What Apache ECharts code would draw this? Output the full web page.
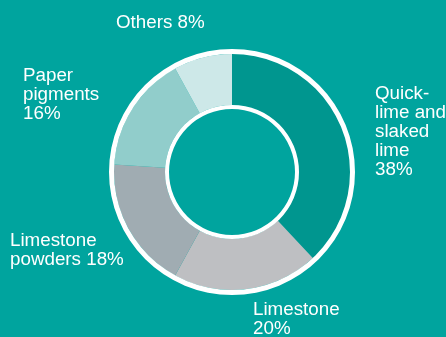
<!DOCTYPE html>
<html>
<head>
<meta charset="utf-8">
<script src="https://cdn.jsdelivr.net/npm/echarts@6/dist/echarts.min.js"></script>
<style>
  html, body { margin: 0; padding: 0; background: #00a49e; }
  #chart { width: 446px; height: 337px; }
</style>
</head>
<body>
<div id="chart"></div>
<script>
// Product mix, share in percent (clockwise from 12 o'clock)
const categories = ['Quick-\nlime and\nslaked\nlime', 'Limestone', 'Limestone\npowders', 'Paper\npigments', 'Others'];
const shares = [38, 20, 18, 16, 8];
// How each label joins the name and the share
const joiners = ['\n', '\n', ' ', '\n', ' '];

const sliceColors = ['#00968f', '#bebfc2', '#a0acb2', '#91cdcb', '#cde8e8'];
// Top-left corner of each label block
const labelSpots = [[375, 84], [253, 300], [10, 231], [23, 66], [116, 13]];

const chart = echarts.init(document.getElementById('chart'), null, { renderer: 'canvas' });
const center = [232, 172];

chart.setOption({
  backgroundColor: '#00a49e',
  animation: false,
  series: [
    {
      type: 'pie',
      center: center,
      radius: [67, 118],
      startAngle: 90,
      clockwise: true,
      avoidLabelOverlap: false,
      itemStyle: { borderWidth: 0 },
      label: {
        show: true,
        color: '#ffffff',
        fontFamily: 'Liberation Sans, Arial, sans-serif',
        fontSize: 18.8,
        lineHeight: 19,
        align: 'left',
        formatter: function (p) {
          return p.name + joiners[p.dataIndex] + p.value + '%';
        }
      },
      labelLine: { show: false },
      labelLayout: function (p) {
        const s = labelSpots[p.dataIndex];
        return { x: s[0], y: s[1], align: 'left', verticalAlign: 'top', hideOverlap: false };
      },
      emphasis: { disabled: true },
      data: categories.map((c, i) => ({ name: c, value: shares[i], itemStyle: { color: sliceColors[i] } }))
    },
    {
      // outer white ring
      type: 'pie',
      center: center,
      radius: [118, 123],
      silent: true,
      label: { show: false },
      labelLine: { show: false },
      itemStyle: { color: '#ffffff' },
      data: [{ value: 1, name: 'outer' }]
    },
    {
      // inner white ring
      type: 'pie',
      center: center,
      radius: [63, 67],
      silent: true,
      label: { show: false },
      labelLine: { show: false },
      itemStyle: { color: '#ffffff' },
      data: [{ value: 1, name: 'inner' }]
    }
  ]
});
</script>
</body>
</html>
